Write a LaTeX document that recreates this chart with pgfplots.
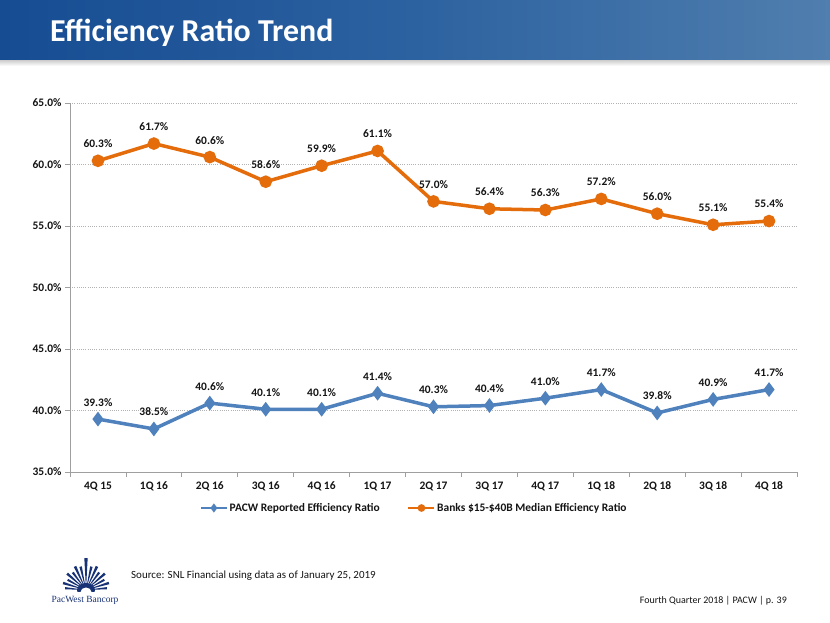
\documentclass[border=0pt]{standalone}
\usepackage{pgfplots}
\pgfplotsset{compat=1.18}
\usepackage{fontspec}
\setmainfont{Carlito}
\newfontfamily\logofont{Liberation Serif}
\definecolor{banL}{RGB}{22,76,146}
\definecolor{banM}{RGB}{44,98,160}
\definecolor{banR}{RGB}{80,126,174}
\definecolor{pblue}{RGB}{79,129,189}
\definecolor{porange}{RGB}{228,108,10}
\definecolor{navy}{RGB}{24,50,118}
\definecolor{txt}{RGB}{20,20,20}
\begin{document}
\begin{tikzpicture}[x=1bp,y=1bp]
\useasboundingbox (0,0) rectangle (830,623);
\fill[white] (0,0) rectangle (830,623);
% banner
\shade[top color=gray!40, bottom color=white] (0,557) rectangle (830,563);
\shade[left color=banL, right color=banR, middle color=banM] (0,563) rectangle (830,623);
\node[anchor=base west, inner sep=0pt, text=white, font=\bfseries\fontsize{32}{32}\selectfont] at (50,581) {Efficiency Ratio Trend};
% chart
\begin{axis}[
  at={(70bp,151bp)}, anchor=south west,
  scale only axis, width=727bp, height=369bp,
  xmin=-0.5, xmax=12.5, ymin=35, ymax=65,
  axis x line*=bottom, axis y line*=left,
  axis line style={draw=gray!75, line width=0.8bp},
  /pgf/number format/assume math mode=true,
  ytick={35,40,...,65},
  yticklabel={\pgfmathprintnumber[fixed,fixed zerofill,precision=1]{\tick}\%},
  ymajorgrids,
  grid style={draw=gray!60, line width=0.6bp, dash pattern=on 1bp off 1.2bp},
  tick align=outside, major tick length=5bp,
  tick style={draw=gray!75, line width=0.8bp},
  xtick={-0.5,0.5,...,12.5}, xticklabels={},
  extra x ticks={0,1,2,3,4,5,6,7,8,9,10,11,12},
  extra x tick labels={4Q 15,1Q 16,2Q 16,3Q 16,4Q 16,1Q 17,2Q 17,3Q 17,4Q 17,1Q 18,2Q 18,3Q 18,4Q 18},
  extra x tick style={tick style={draw=none}, grid=none},
  ticklabel style={font=\bfseries\fontsize{11.5}{13}\selectfont, text=txt},
  xticklabel style={yshift=-1bp},
  nodes near coords={\pgfmathprintnumber[fixed,fixed zerofill,precision=1]{\pgfplotspointmeta}\%},
  every node near coord/.append style={font=\bfseries\fontsize{11.5}{13}\selectfont, text=txt, anchor=center, yshift=17bp},
  legend columns=2,
  legend style={at={(0.473,-0.0976)}, anchor=center, draw=none, fill=none,
    font=\bfseries\fontsize{11.5}{13}\selectfont, text=txt,
    /tikz/every even column/.append style={column sep=26bp},
    nodes={inner sep=1.5bp}},
  legend image code/.code={\draw[#1, mark repeat=2, mark phase=2, line width=2.5bp, mark size=2.5bp] plot coordinates {(0bp,0bp) (13bp,0bp) (26bp,0bp)};},
]
\addplot[color=pblue, line width=3.5bp, mark=diamond*, mark size=4.5bp, mark options={solid}] coordinates {
(0,39.3) (1,38.5) (2,40.6) (3,40.1) (4,40.1) (5,41.4) (6,40.3) (7,40.4) (8,41.0) (9,41.7) (10,39.8) (11,40.9) (12,41.7)};
\addlegendentry{PACW Reported Efficiency Ratio}
\addplot[color=porange, line width=3.5bp, mark=*, mark size=4.5bp, mark options={solid}] coordinates {
(0,60.3) (1,61.7) (2,60.6) (3,58.6) (4,59.9) (5,61.1) (6,57.0) (7,56.4) (8,56.3) (9,57.2) (10,56.0) (11,55.1) (12,55.4)};
\addlegendentry{Banks \$15-\$40B Median Efficiency Ratio}
\end{axis}
% footer texts
\node[anchor=west, inner sep=0pt, text=txt, font=\fontsize{11}{13}\selectfont] at (131,47) {Source: SNL Financial using data as of January 25, 2019};
\node[anchor=east, inner sep=0pt, text=txt, font=\fontsize{10}{12}\selectfont] at (787,22) {Fourth Quarter 2018 | PACW | p. 39};
% logo
\foreach \a/\l in {5/21,17/24,29/21,41/25,53/22,65/26,77/24,90/32,103/24,115/26,127/22,139/25,151/21,163/24,175/21}{
  \fill[navy] (86,33) -- +(\a-3:\l) -- +(\a+3:\l) -- cycle;
}
\fill[navy] (86,33) ellipse (9 and 7);
\fill[white] (86,31) ellipse (5.5 and 4.5);
\fill[white] (60,24) rectangle (112,31);
\node[anchor=base, inner sep=0pt, text=navy, font=\logofont\fontsize{9.5}{10}\selectfont] at (85,20) {PacWest Bancorp};
\end{tikzpicture}
\end{document}
